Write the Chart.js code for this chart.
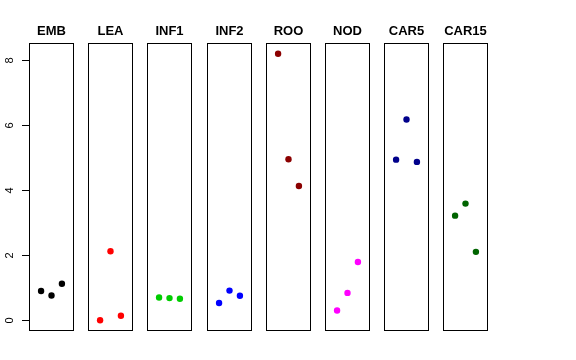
<!DOCTYPE html>
<html>
<head>
<meta charset="utf-8">
<script src="https://cdn.jsdelivr.net/npm/chart.js@4/dist/chart.umd.min.js"></script>
<style>
  html, body { margin: 0; padding: 0; background: #ffffff; }
  #wrap { position: relative; width: 576px; height: 360px; background: #ffffff; }
  canvas { position: absolute; top: 0; display: block; }
</style>
</head>
<body>
<div id="wrap"></div>
<script>
// ---- data ----
const categories = ["EMB", "LEA", "INF1", "INF2", "ROO", "NOD", "CAR5", "CAR15"];
const replicateX = [1, 2, 3];
const valuesEMB   = [0.90, 0.76, 1.12];
const valuesLEA   = [0.00, 2.12, 0.14];
const valuesINF1  = [0.70, 0.68, 0.66];
const valuesINF2  = [0.53, 0.91, 0.75];
const valuesROO   = [8.18, 4.94, 4.12];
const valuesNOD   = [0.30, 0.84, 1.79];
const valuesCAR5  = [4.93, 6.16, 4.86];
const valuesCAR15 = [3.21, 3.58, 2.10];
const seriesValues = [valuesEMB, valuesLEA, valuesINF1, valuesINF2, valuesROO, valuesNOD, valuesCAR5, valuesCAR15];
const seriesColors = ["#000000", "#FF0000", "#00CD00", "#0000FF", "#8B0000", "#FF00FF", "#00008B", "#006400"];
const yTickLabels = [0, 2, 4, 6, 8];

// ---- layout ----
const panelLefts = [29, 88, 147, 207, 266, 325, 384, 443];
const panelWidth = 45;
const panelHeight = 331;
const axisWidth = 29;
const yMin = -0.33, yMax = 8.51;
const xMin = -0.16, xMax = 4.16;

const boxPlugin = {
  id: 'box',
  afterDatasetsDraw(chart) {
    const a = chart.chartArea;
    const ctx = chart.ctx;
    ctx.save();
    ctx.strokeStyle = '#000000';
    ctx.lineWidth = 1;
    const l = Math.round(a.left) + 0.5, r = Math.round(a.right) - 0.5;
    const t = Math.round(a.top) + 0.5, b = Math.round(a.bottom) - 0.5;
    ctx.strokeRect(l, t, r - l, b - t);
    ctx.restore();
  }
};

const yAxisPlugin = {
  id: 'yaxisDraw',
  afterDraw(chart) {
    const s = chart.scales.y;
    if (!s.options.display) return;
    const ctx = chart.ctx;
    const x0 = Math.round(chart.chartArea.left);
    ctx.save();
    ctx.strokeStyle = '#000000';
    ctx.lineWidth = 1;
    ctx.fillStyle = '#000000';
    ctx.font = '11px "Liberation Sans", Arial, sans-serif';
    ctx.textAlign = 'center';
    ctx.textBaseline = 'middle';
    s.ticks.forEach(t => {
      const y = Math.round(s.getPixelForValue(t.value)) + 0.5;
      ctx.beginPath();
      ctx.moveTo(x0 - 7, y);
      ctx.lineTo(x0, y);
      ctx.stroke();
      ctx.save();
      ctx.translate(9.5, y);
      ctx.rotate(-Math.PI / 2);
      ctx.fillText(String(t.value), 0, 0);
      ctx.restore();
    });
    ctx.restore();
  }
};

const wrap = document.getElementById('wrap');
categories.forEach((cat, i) => {
  const first = i === 0;
  const left = first ? 0 : panelLefts[i];
  const width = first ? panelLefts[0] + panelWidth : panelWidth;
  const cv = document.createElement('canvas');
  cv.width = width;
  cv.height = panelHeight;
  cv.style.left = left + 'px';
  cv.style.width = width + 'px';
  cv.style.height = panelHeight + 'px';
  wrap.appendChild(cv);

  new Chart(cv, {
    type: 'scatter',
    data: {
      datasets: [{
        data: replicateX.map((x, k) => ({ x: x, y: seriesValues[i][k] })),
        backgroundColor: seriesColors[i],
        borderColor: seriesColors[i],
        pointRadius: 3.2,
        pointBorderWidth: 0,
        pointHoverRadius: 3.2,
        clip: false
      }]
    },
    options: {
      responsive: false,
      maintainAspectRatio: false,
      devicePixelRatio: 1,
      animation: false,
      events: [],
      layout: { padding: 0, autoPadding: false },
      plugins: {
        legend: { display: false },
        tooltip: { enabled: false },
        title: {
          display: true,
          text: cat,
          color: '#000000',
          font: { family: '"Liberation Sans", Arial, sans-serif', size: 13, weight: 'bold', lineHeight: 1.2 },
          padding: { top: 23.5, bottom: 3.9 },
          align: 'center',
          fullSize: false
        }
      },
      scales: {
        x: {
          type: 'linear', min: xMin, max: xMax, display: false
        },
        y: {
          type: 'linear', min: yMin, max: yMax,
          display: first,
          grid: { display: false },
          border: { display: false },
          ticks: { display: false },
          afterBuildTicks: (scale) => { scale.ticks = yTickLabels.map(v => ({ value: v })); },
          afterFit: (scale) => { if (first) scale.width = axisWidth; }
        }
      }
    },
    plugins: [boxPlugin, yAxisPlugin]
  });
});
</script>
</body>
</html>
